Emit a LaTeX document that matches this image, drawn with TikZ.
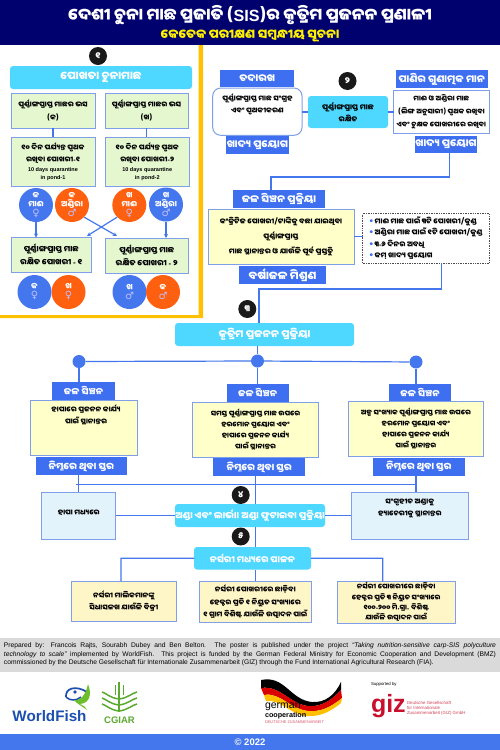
\documentclass[tikz,border=0pt]{standalone}
\usetikzlibrary{arrows.meta}
\usepackage{fontspec}
\setmainfont{Liberation Sans}
\newfontfamily\od[Script=Oriya]{Noto Sans Oriya UI}
\newfontfamily\sym{DejaVu Sans}
\definecolor{navy}{HTML}{00006E}
\definecolor{gold}{HTML}{FFC000}
\definecolor{cyanbox}{HTML}{4FD8FF}
\definecolor{labblue}{HTML}{3D6FF0}
\definecolor{linkblue}{HTML}{4477EE}
\definecolor{edgeblue}{HTML}{7F9FEA}
\definecolor{greenbox}{HTML}{E4F7CF}
\definecolor{yellowbox}{HTML}{FFFFC9}
\definecolor{creambox}{HTML}{FFF6C8}
\definecolor{skybox}{HTML}{E2F3FC}
\definecolor{orangec}{HTML}{FF6010}
\definecolor{footgray}{HTML}{D9DAD9}
\definecolor{wfblue}{HTML}{1B4FB0}
\definecolor{wfgreen}{HTML}{6CBE2C}
\definecolor{cggreen}{HTML}{5BA92F}
\definecolor{gizred}{HTML}{C8102E}
\tikzset{
 x=1pt,y=-1pt,
 base/.style={inner sep=0pt,outer sep=0pt,align=center,font=\od\bfseries\fontsize{7.2}{12.2}\selectfont},
 green/.style={base,draw=edgeblue,line width=1pt,fill=greenbox},
 yellowb/.style={base,draw=edgeblue,line width=1pt,fill=yellowbox},
 cream/.style={base,draw=edgeblue,line width=1pt,fill=creambox},
 sky/.style={base,draw=edgeblue,line width=1pt,fill=skybox},
 whitebox/.style={base,draw=edgeblue,line width=1pt,fill=white},
 cyanb/.style={base,fill=cyanbox,rounded corners=3pt,text=white,font=\od\bfseries\fontsize{10.4}{12}\selectfont},
 labelb/.style={base,fill=labblue,text=white,font=\od\bfseries\fontsize{10.2}{12}\selectfont},
 conn/.style={linkblue,line width=1.2pt},
 arr/.style={conn,-{Stealth[length=4pt,width=4pt]}},
 numc/.style={circle,fill=black!90,text=white,minimum size=18pt,inner sep=0pt,font=\od\bfseries\fontsize{9}{9}\selectfont},
 fishc/.style={circle,minimum size=34pt,inner sep=0pt,align=center,text=white,font=\od\bfseries\fontsize{8}{9}\selectfont},
 bluec/.style={fishc,fill=linkblue},
 orangecc/.style={fishc,fill=orangec},
 dotn/.style={circle,fill=linkblue,minimum size=13pt,inner sep=0pt},
}
\newcommand{\bx}[7]{%
 \pgfmathsetmacro\bcx{(#2+#4)/2}\pgfmathsetmacro\bcy{(#3+#5)/2}%
 \pgfmathsetmacro\bw{#4-#2}\pgfmathsetmacro\bh{#5-#3}%
 \node[#6,minimum width=\bw pt,minimum height=\bh pt] (#1) at (\bcx,\bcy) {#7};}
\newcommand{\fem}{{\sym\fontsize{10}{10}\selectfont\color{white!75!blue}♀}}
\newcommand{\mal}{{\sym\fontsize{10}{10}\selectfont\color{white!75!blue}♂}}
\newcommand{\eng}[1]{{\rmfamily\bfseries\fontsize{5.5}{7.2}\selectfont #1}}
\newcommand{\hy}{{\rmfamily -}}
\newcommand{\bul}{{\color{labblue}\rmfamily\fontsize{10}{10}\selectfont•}}
\begin{document}
\begin{tikzpicture}
\useasboundingbox (0,0) rectangle (500,750);
\fill[white] (0,0) rectangle (500,750);
% header
\bx{head}{0}{0}{500}{45}{base,fill=navy}{}
\node[base,text=white,font=\od\bfseries\fontsize{16.2}{17}\selectfont] (title) at (250,15) {ଦେଶୀ ଚୁନା ମାଛ ପ୍ରଜାତି ({\rmfamily SIS})ର କୃତ୍ରିମ ପ୍ରଜନନ ପ୍ରଣାଳୀ};
\node[base,text=yellow,font=\od\bfseries\fontsize{12.5}{13}\selectfont] (subtitle) at (250,36) {କେତେକ ପରୀକ୍ଷଣ ସମ୍ବନ୍ଧୀୟ ସୂଚନା};
% left panel frame
\fill[gold] (198.5,45) rectangle (203,318) (0,315) rectangle (203,318);
\node[numc] (n1) at (98,56) {୧};
\bx{pokh}{10}{66}{192}{89}{cyanb,font=\od\bfseries\fontsize{11}{12}\selectfont}{ପୋଖତା ଚୁନାମାଛ}
\bx{a1}{11}{93}{95}{128}{green}{ପୂର୍ଣ୍ଣାଙ୍ଗପ୍ରାପ୍ତ ମାଛର ଭସ\\(କ)}
\bx{a2}{105}{93}{188}{128}{green}{ପୂର୍ଣ୍ଣାଙ୍ଗପ୍ରାପ୍ତ ମାଛର ଭସ\\(ଖ)}
\bx{b1}{11}{137}{95}{186}{green}{୧୦ ଦିନ ପର୍ଯ୍ୟନ୍ତ ପୃଥକ\\ରଖିବା ପୋଖରୀ\hy ୧\\[-3pt]\eng{10 days quarantine}\\[-5pt]\eng{in pond-1}}
\bx{b2}{105.5}{137}{189}{186}{green}{୧୦ ଦିନ ପର୍ଯ୍ୟନ୍ତ ପୃଥକ\\ରଖିବା ପୋଖରୀ\hy ୨\\[-3pt]\eng{10 days quarantine}\\[-5pt]\eng{in pond-2}}
\draw[conn] (a1.south) -- (b1.north -| a1.south);
\draw[conn] (a2.south) -- (b2.north -| a2.south);
\node[bluec] (c1) at (36,205) {କ\\ମାଈ\\\fem};
\node[orangecc] (c2) at (72,205) {କ\\ଅଣ୍ଡିରା\\\mal};
\node[orangecc] (c3) at (129.3,205) {ଖ\\ମାଈ\\\fem};
\node[bluec] (c4) at (166,204.5) {ଖ\\ଅଣ୍ଡିରା\\\mal};
\bx{d1}{11}{237.5}{91.5}{272}{green,font=\od\bfseries\fontsize{8}{13}\selectfont}{ପୂର୍ଣ୍ଣାଙ୍ଗପ୍ରାପ୍ତ ମାଛ\\ରକ୍ଷିତ ପୋଖରୀ \hy\ ୧}
\bx{d2}{105}{238}{188.5}{273}{green,font=\od\bfseries\fontsize{8}{13}\selectfont}{ପୂର୍ଣ୍ଣାଙ୍ଗପ୍ରାପ୍ତ ମାଛ\\ରକ୍ଷିତ ପୋଖରୀ \hy\ ୨}
\coordinate (x1) at (117,236);
\coordinate (x2) at (87,236);
\draw[arr] (c1.south) -- (c1.south |- d1.north);
\draw[arr] (c4.south) -- (c4.south |- d2.north);
\draw[arr] (c2.-45) -- (x1);
\draw[arr] (c3.225) -- (x2);
\node[bluec] (e1) at (34.5,292) {କ\\\fem};
\node[orangecc] (e2) at (68.5,292) {ଖ\\\fem};
\node[bluec] (e3) at (129.5,292) {ଖ\\\mal};
\node[orangecc] (e4) at (163,292) {କ\\\mal};
% section 2
\bx{tad}{220}{70}{294.3}{87.3}{labelb}{ତଦାରଖ}
\bx{sang}{212.7}{88}{302}{135.3}{whitebox,rounded corners=8pt}{}
\node[base] (sangt) at (257.4,104.5) {ପୂର୍ଣ୍ଣାଙ୍ଗପ୍ରାପ୍ତ ମାଛ ସଂଗ୍ରହ\\ଏବଂ ପୃଥକୀକରଣ};
\bx{fd1}{226}{136}{288.7}{154}{labelb}{ଖାଦ୍ୟ ପ୍ରୟୋଗ}
\node[numc] (n2) at (347.5,81) {୨};
\bx{rak}{308}{96}{388}{128}{cyanb,text=black,font=\od\bfseries\fontsize{7.5}{12}\selectfont}{ପୂର୍ଣ୍ଣାଙ୍ଗପ୍ରାପ୍ତ ମାଛ\\ରକ୍ଷିତ}
\bx{pani}{395.7}{70}{487.7}{88}{labelb}{ପାଣିର ଗୁଣାତ୍ମକ ମାନ}
\bx{mai}{393.7}{90}{489}{133.3}{whitebox,font=\od\bfseries\fontsize{7}{12.8}\selectfont}{ମାଈ ଓ ଅଣ୍ଡିରା ମାଛ\\(ଲିଙ୍ଗ ଅନୁସାରୀ) ପୃଥକ ରଖିବା\\ଏବଂ ଚୁକ୍ଷକ ପୋଖରୀରେ ରଖିବା}
\bx{fd2}{415}{135.7}{477}{153}{labelb}{ଖାଦ୍ୟ ପ୍ରୟୋଗ}
\draw[conn] (sang.east |- rak.west) -- (rak.west);
\draw[conn] (rak.east) -- (mai.west |- rak.east);
\bx{jal}{233}{190.3}{325}{208}{labelb}{ଜଳ ସିଞ୍ଚନ ପ୍ରକ୍ରିୟା}
\coordinate (t1) at (449.5,177);
\coordinate (f2) at (449.5,153);
\draw[conn] (f2) -- (t1) -- (271,177) -- (271,190.3);
\bx{conc}{208}{209}{354}{264.5}{yellowb,font=\od\bfseries\fontsize{7.3}{15}\selectfont}{କଂକ୍ରିଟିଜ ପୋଖରୀ/ଟାଙ୍କିକୁ ବଛା ଯାଇଥିବା\\ପୂର୍ଣ୍ଣାଙ୍ଗପ୍ରାପ୍ତ\\ମାଛ ସ୍ଥାନାନ୍ତର ଓ ଯାଉଁଳି ପୂର୍ବ ପ୍ରସ୍ତୁତି}
\bx{dots}{362.6}{213.5}{489.5}{263}{base,draw=black!70,densely dotted,line width=.7pt,fill=white,align=left,font=\od\bfseries\fontsize{7.4}{11.2}\selectfont}{\bul\ ମାଈ ମାଛ ପାଇଁ ୩ଟି ପୋଖରୀ/କୁଣ୍ଡ\\\bul\ ଅଣ୍ଡିରା ମାଛ ପାଇଁ ୧ଟି ପୋଖରୀ/କୁଣ୍ଡ\\\bul\ ୩\hy ୬ ଦିନର ଅବଧି\\\bul\ କମ୍ ଖାଦ୍ୟ ପ୍ରୟୋଗ}
\draw[conn] (conc.east) -- (dots.west |- conc.east);
\bx{bar}{239}{266}{326}{283.5}{labelb,font=\od\bfseries\fontsize{11}{12}\selectfont}{ବର୍ଷାଜଳ ମିଶ୍ରଣ}
% section 3
\bx{krit}{175}{323}{354}{346}{cyanb}{କୃତ୍ରିମ ପ୍ରଜନନ ପ୍ରକ୍ରିୟା}
\coordinate (t2) at (441.7,289);
\draw[conn] (441.7,263) -- (t2) -- (259,289) -- (259,323);
\node[numc] (n3) at (247.3,309) {୩};
\node[dotn] (j1) at (79,361.5) {};
\node[dotn] (j2) at (257.5,361) {};
\node[dotn] (j3) at (416,362) {};
\draw[conn] (j1) -- (j2) -- (j3);
\draw[conn] (257.5,346) -- (j2);
\bx{js1}{52}{382}{115}{400}{labelb,font=\od\bfseries\fontsize{9.2}{12}\selectfont}{ଜଳ ସିଞ୍ଚନ}
\bx{js2}{226.5}{384}{288.7}{401.7}{labelb,font=\od\bfseries\fontsize{9.2}{12}\selectfont}{ଜଳ ସିଞ୍ଚନ}
\bx{js3}{389}{384}{451}{401}{labelb,font=\od\bfseries\fontsize{9.2}{12}\selectfont}{ଜଳ ସିଞ୍ଚନ}
\draw[conn] (j1) -- (j1 |- js1.north);
\draw[conn] (j2) -- (j2 |- js2.north);
\draw[conn] (j3) -- (j3 |- js3.north);
\bx{h1}{30.5}{400}{137.5}{455}{yellowb}{}
\node[base] (h1t) at (86,415.3) {ହାପାରେ ପ୍ରଜନନ କାର୍ଯ୍ୟ\\ପାଇଁ ସ୍ଥାନାନ୍ତର};
\bx{h2}{192.5}{402.5}{318.5}{457.3}{yellowb,font=\od\bfseries\fontsize{7}{11}\selectfont}{ସମସ୍ତ ପୂର୍ଣ୍ଣାଙ୍ଗପ୍ରାପ୍ତ ମାଛ ଉପରେ\\ହରମୋନ ପ୍ରୟୋଗ ଏବଂ\\ହାପାରେ ପ୍ରଜନନ କାର୍ଯ୍ୟ\\ପାଇଁ ସ୍ଥାନାନ୍ତର}
\bx{h3}{348.7}{401.5}{483}{456.3}{yellowb,font=\od\bfseries\fontsize{7}{11}\selectfont}{ଅଳ୍ପ ସଂଖ୍ୟାକ ପୂର୍ଣ୍ଣାଙ୍ଗପ୍ରାପ୍ତ ମାଛ ଉପରେ\\ହରମୋନ ପ୍ରୟୋଗ ଏବଂ\\ହାପାରେ ପ୍ରଜନନ କାର୍ଯ୍ୟ\\ପାଇଁ ସ୍ଥାନାନ୍ତର}
\bx{lv1}{35.5}{457}{127}{475}{labelb,font=\od\bfseries\fontsize{9.5}{12}\selectfont}{ନିମ୍ନରେ ଥିବା ସ୍ତର}
\bx{lv2}{213.3}{458}{305}{476.3}{labelb,font=\od\bfseries\fontsize{9.5}{12}\selectfont}{ନିମ୍ନରେ ଥିବା ସ୍ତର}
\bx{lv3}{373}{458}{464.7}{475.7}{labelb,font=\od\bfseries\fontsize{9.5}{12}\selectfont}{ନିମ୍ନରେ ଥିବା ସ୍ତର}
% section 4
\bx{ss}{41.7}{492.3}{115.7}{539}{sky}{}
\node[base] (sst) at (78.7,512.7) {ହାପା ମଧ୍ୟରେ};
\bx{sr}{351.3}{492.3}{468.3}{539}{sky}{}
\node[base] (srt) at (409.8,508.5) {ସଂଗୃହୀତ ଅଣ୍ଡାକୁ\\ହ୍ୟାଚେରୀକୁ ସ୍ଥାନାନ୍ତର};
\bx{anda}{175}{504}{325}{527}{cyanb,font=\od\bfseries\fontsize{9.2}{12}\selectfont}{ଅଣ୍ଡା ଏବଂ ଲାର୍ଭା। ଅଣ୍ଡା ଫୁଟାଇବା ପ୍ରକ୍ରିୟା}
\bx{nur}{194}{547}{311}{569.5}{cyanb,font=\od\bfseries\fontsize{9}{12}\selectfont}{ନର୍ସରୀ ମଧ୍ୟରେ ପାଳନ}
\bx{k1}{71}{581.3}{176.7}{621.3}{cream}{ନର୍ସରୀ ମାଲିକମାନଙ୍କୁ\\ସିଧାସଳଖ ଯାଉଁଳି ବିକ୍ରୀ}
\bx{k2}{199.3}{581.3}{311.3}{622.3}{cream}{ନର୍ସରୀ ପୋଖରୀରେ ଛାଡ଼ିବା\\ହେକ୍ଟର ପ୍ରତି ୧ ନିୟୁତ ସଂଖ୍ୟାରେ\\୧ ଗ୍ରାମ ବିଶିଷ୍ଟ ଯାଉଁଳି ଉତ୍ପାଦନ ପାଇଁ}
\bx{k3}{337.3}{581.3}{455}{623}{cream,font=\od\bfseries\fontsize{7}{10.3}\selectfont}{ନର୍ସରୀ ପୋଖରୀରେ ଛାଡ଼ିବା\\ହେକ୍ଟର ପ୍ରତି ୩ ନିୟୁତ ସଂଖ୍ୟାରେ\\୧୦୦\hy ୨୦୦ ମି.ଗ୍ରା. ବିଶିଷ୍ଟ\\ଯାଉଁଳି ଉତ୍ପାଦନ ପାଇଁ}
\draw[conn] (lv1.south -| ss.north) -- (ss.north);
\draw[conn] (76,484.3) -- (416,484.3);
\draw[conn] (416,475.7) -- (416,492.3);
\draw[conn] (255.3,476.3) -- (255.3,504);
\draw[conn] (255.3,527) -- (255.3,547);
\draw[conn] (ss.east |- anda.west) -- (anda.west);
\draw[conn] (anda.east) -- (sr.west |- anda.east);
\draw[conn] (255.3,569.5) -- (255.3,581.3);
\draw[conn] (nur.west) -- (121,558.3) -- (121,581.3);
\draw[conn] (nur.east) -- (382.7,558.3) -- (382.7,581.3);
\node[numc] (n4) at (240.7,495) {୪};
\node[numc] (n5) at (240.7,536.5) {୫};
% footer
\fill[footgray] (0,638.3) rectangle (500,672);
\node[base,anchor=north west,text width=492pt,align=justify,font=\rmfamily\fontsize{6.7}{8.3}\selectfont] (foot) at (4,643) {Prepared by: Francois Rajts, Sourabh Dubey and Ben Belton. The poster is published under the project \emph{``Taking nutrition-sensitive carp-SIS polyculture\linebreak technology to scale''} implemented by WorldFish. This project is funded by the German Federal Ministry for Economic Cooperation and Development (BMZ)\linebreak commissioned by the Deutsche Gesellschaft für Internationale Zusammenarbeit (GIZ) through the Fund International Agricultural Research (FIA).};
\fill[linkblue] (0,733.5) rectangle (500,750);
\node[base,text=white,font=\rmfamily\bfseries\fontsize{9.5}{10}\selectfont] (copy) at (250,742) {© 2022};
% WorldFish logo
\node[base,text=wfblue,font=\rmfamily\bfseries\fontsize{15.2}{16}\selectfont] (wf) at (49.5,716) {WorldFish};
\draw[wfblue,line width=1.7pt] (66,697) .. controls (65,688) and (76,685) .. (87,692);
\draw[wfblue,line width=1.5pt] (66,697) .. controls (70,701) and (76,701) .. (81,697);
\fill[wfgreen] (74,700) .. controls (81,701) and (86,694) .. (88,684) .. controls (92,694) and (90,703) .. (80,704) .. controls (84,706) and (86,707) .. (87,710) .. controls (82,706) and (77,704) .. (74,700) -- cycle;
\fill[wfblue] (75,692) circle (1.8);
% CGIAR logo
\node[base,text=cggreen,font=\rmfamily\bfseries\fontsize{9.5}{10}\selectfont] (cg) at (119.5,720) {CGIAR};
\draw[cggreen,line width=1.4pt] (119,682) -- (119,712);
\foreach \yy in {692,698,704}{
 \draw[cggreen,line width=1.5pt] (119,\yy+7) .. controls (110,\yy+6) and (106,\yy+1) .. (102,\yy);
 \draw[cggreen,line width=1.5pt] (119,\yy+7) .. controls (128,\yy+6) and (132,\yy+1) .. (137,\yy);}
\draw[cggreen,line width=1pt] (115,685) -- (115,695) (123,685) -- (123,695);
% german cooperation logo
\fill[black] (261,680) .. controls (285,675) and (290,700) .. (312,702) .. controls (325,703) and (335,695) .. (341,682) -- (341,690) .. controls (330,702) and (320,707) .. (308,706) .. controls (290,704) and (280,685) .. (261,688) -- cycle;
\fill[red!85!black] (261,688) .. controls (280,685) and (290,704) .. (308,706) .. controls (320,707) and (330,702) .. (341,690) -- (342,698) .. controls (330,708) and (320,712) .. (308,711) .. controls (290,709) and (280,692) .. (264,695) -- cycle;
\fill[gold] (264,695) .. controls (280,692) and (290,709) .. (308,711) .. controls (320,712) and (330,708) .. (342,698) -- (341,703) .. controls (330,712) and (320,717) .. (306,716) .. controls (290,714) and (280,699) .. (266,701) -- cycle;
\node[base,anchor=west,font=\rmfamily\fontsize{10.5}{11}\selectfont] (gc1) at (265,707) {german};
\node[base,anchor=west,font=\rmfamily\bfseries\fontsize{7.2}{8}\selectfont] (gc2) at (265,715.5) {cooperation};
\node[base,anchor=west,text=gizred!70,font=\rmfamily\fontsize{3.9}{4}\selectfont] (gc3) at (265,722.5) {DEUTSCHE ZUSAMMENARBEIT};
% giz logo
\node[base,anchor=west,font=\rmfamily\fontsize{4.3}{5}\selectfont] (sup) at (371,684) {Supported by};
\node[base,anchor=west,text=gizred,font=\rmfamily\bfseries\fontsize{25}{25}\selectfont] (giz) at (371,706.5) {giz};
\node[base,anchor=west,align=left,text=gizred!80,font=\rmfamily\fontsize{4.4}{5.3}\selectfont] (giz2) at (407,708.5) {Deutsche Gesellschaft\\für Internationale\\Zusammenarbeit (GIZ) GmbH};
\end{tikzpicture}
\end{document}
